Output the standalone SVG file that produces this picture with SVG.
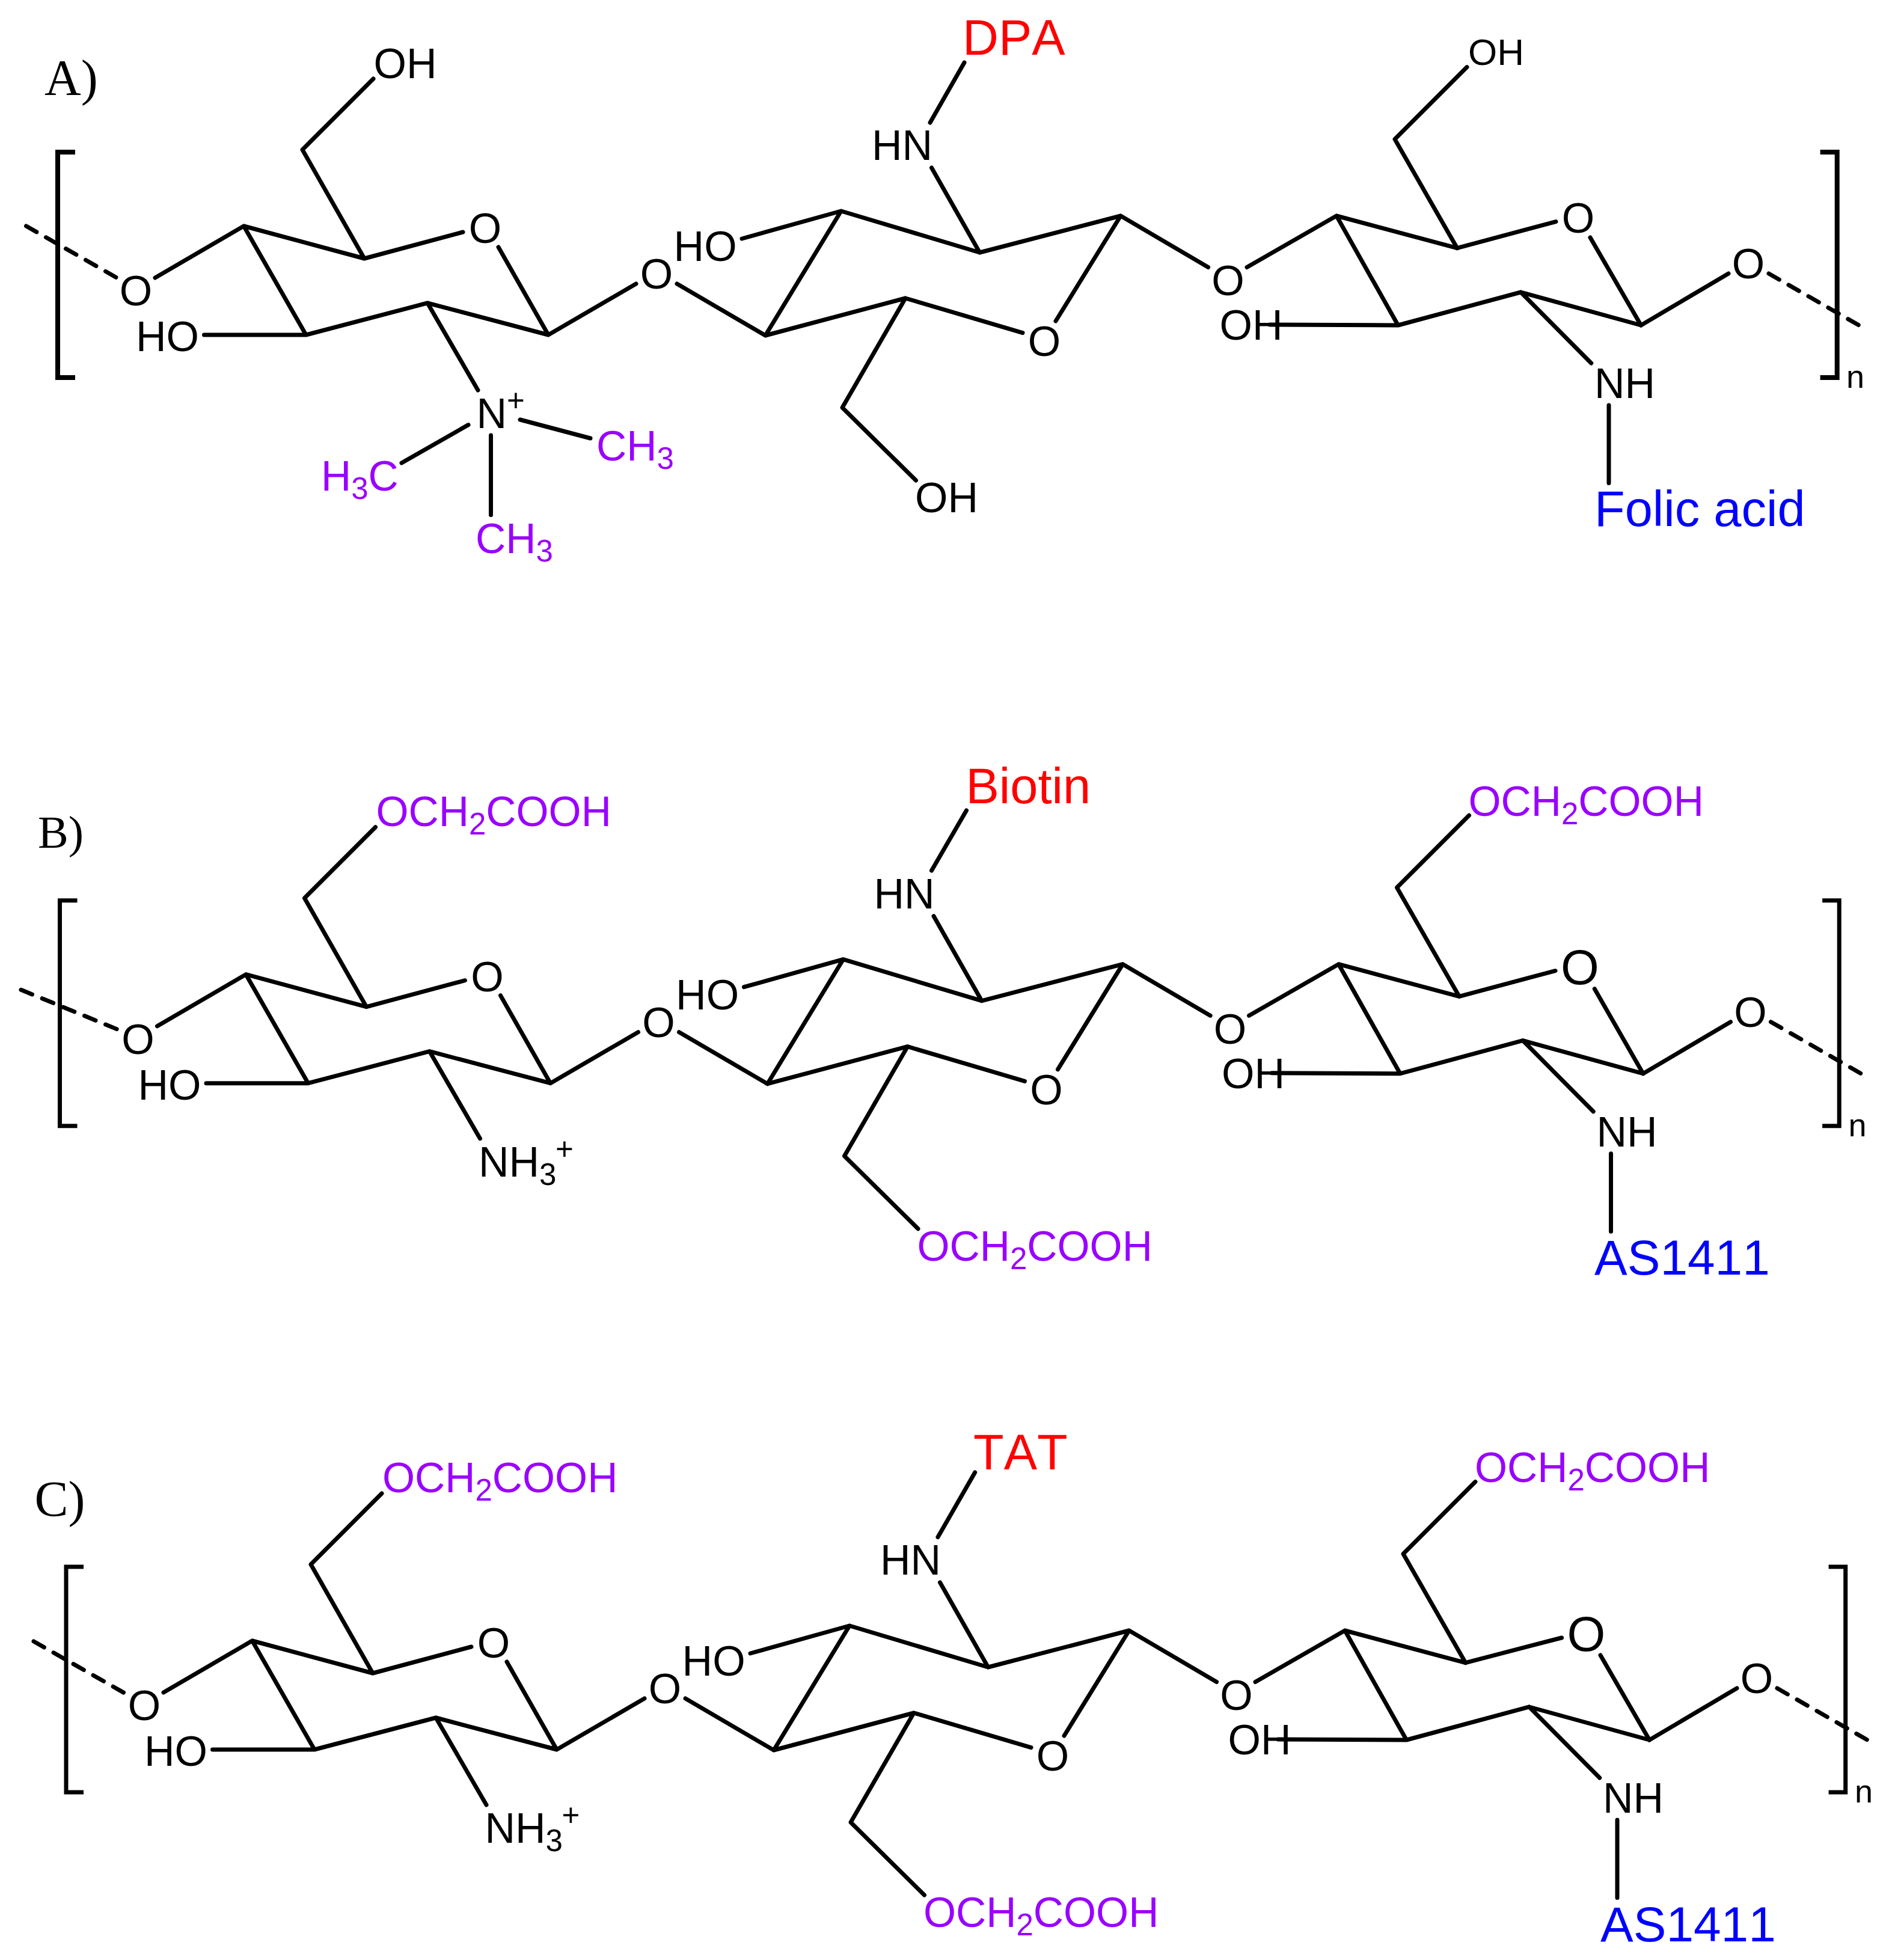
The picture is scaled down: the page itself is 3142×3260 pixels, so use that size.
<svg xmlns="http://www.w3.org/2000/svg" xmlns:xlink="http://www.w3.org/1999/xlink" width="3142" height="3260" viewBox="0 0 3142 3260">
<style>
.b{fill:none;stroke:#000;stroke-width:7;stroke-linecap:round;stroke-linejoin:round}
.d{fill:none;stroke:#000;stroke-width:7;stroke-linecap:round;stroke-dasharray:20 18}
.k{fill:none;stroke:#000;stroke-miterlimit:10}
text{font-family:"Liberation Sans",Arial,sans-serif;font-size:70px;fill:#000;font-kerning:none}
.m{text-anchor:middle}
.p{fill:#9900ff;font-size:69.5px}
.r{fill:#ff0000;font-size:83px}
.u{fill:#0000ff;font-size:83px}
.a{fill:#0000ff;font-size:82px}
.s{font-size:51px}
.h{font-family:"Liberation Serif","Times New Roman",serif;font-size:84px}
.big{font-size:82px}
</style>
<defs>
<path id="skeleton" class="b" d="M258,462L405.5,376L606,430L770,386M829,411L912,557L711,504L509,557L405.5,376M606,430L503,249L621,131M339.5,557L509,557M711,504L795,649M912,557L1058,472M1126,472L1273,558L1506,496L1701,553.6M1273,558L1399,351L1629.5,420L1864,359L1756,534M1234,397L1399,351M1549.5,279L1629.5,420M1506,496L1401,678L1523.5,799M1864,359L2009.6,444.5M2074,444.5L2223,359L2423.6,412.6M2223,359L2325.4,541L2529.5,486L2729.5,541M2423.6,412.6L2320,231.5L2440,111.6M2112,540L2325.4,541M2729.5,541L2875,455M2529.5,486L2646.7,604M2676,674L2676,803.6"/>
<path id="brackets" d="M125,253H96V628H125M3027.6,253H3055.7V628H3027.6"/>
<line id="dash-right" class="d" x1="2942" y1="455" x2="3092" y2="541"/>
</defs>

<g id="panel-a">
<g id="connectors-a">
<use xlink:href="#skeleton" href="#skeleton"/>
<use xlink:href="#brackets" href="#brackets" class="k" stroke-width="8"/>
<use xlink:href="#dash-right" href="#dash-right"/>
<line class="d" x1="43.5" y1="376" x2="196" y2="463"/>
<path class="b" d="M2423.6,412.6L2588,368.6M2645,395L2729.5,541M1547,204L1604,104M779,706.6L668,770M865,698L982,729M816.5,724L816.5,856.5"/>
</g>
<g id="labels-a">
<text class="h" x="74" y="158">A)</text>
<text x="621.6" y="130">OH</text>
<text x="226" y="508" class="m">O</text>
<text x="807" y="404" class="m">O</text>
<text x="226" y="584">HO</text>
<text x="1092" y="480" class="m">O</text>
<text x="792.4" y="712">N</text>
<text x="843" y="684" class="s">+</text>
<text x="534" y="816" class="p">H<tspan class="s" dy="14">3</tspan><tspan dy="-14">C</tspan></text>
<text x="992" y="766" class="p">CH<tspan class="s" dy="14">3</tspan></text>
<text x="791" y="920" class="p">CH<tspan class="s" dy="14">3</tspan></text>
<text x="1120.6" y="434">HO</text>
<text x="1450" y="266">HN</text>
<text x="1601" y="91" class="r">DPA</text>
<text x="1737" y="592" class="m">O</text>
<text x="1522" y="852">OH</text>
<text x="2042.6" y="491" class="m">O</text>
<text x="2028.6" y="565">OH</text>
<text x="2442" y="108" style="font-size:62px">OH</text>
<text x="2625" y="387" class="m">O</text>
<text x="2908" y="463" class="m">O</text>
<text x="2652" y="662">NH</text>
<text x="2652" y="875" class="u">Folic acid</text>
<text x="3071" y="645" style="font-size:54px">n</text>
</g>
</g>

<g id="panel-b" transform="translate(3.5,1244.7)">
<g id="connectors-b">
<use xlink:href="#skeleton" href="#skeleton"/>
<use xlink:href="#brackets" href="#brackets" class="k" stroke-width="7"/>
<use xlink:href="#dash-right" href="#dash-right"/>
<line class="d" x1="31.5" y1="401.6" x2="190.8" y2="467"/>
<path class="b" d="M2423.6,412.6L2583.6,370M2648.8,400L2729.5,541M1546,203.3L1604,103.3"/>
</g>
<g id="labels-b">
<text class="h" x="59.5" y="165" style="font-size:76px">B)</text>
<text x="622" y="129" class="p">OCH<tspan class="s" dy="14">2</tspan><tspan dy="-14">COOH</tspan></text>
<text x="226" y="508" class="m">O</text>
<text x="807" y="404" class="m">O</text>
<text x="226" y="584">HO</text>
<text x="1092" y="480" class="m">O</text>
<text x="792.4" y="712">NH<tspan class="s" dy="14">3</tspan></text>
<text x="920.5" y="684" class="s">+</text>
<text x="1120.6" y="434">HO</text>
<text x="1450" y="266">HN</text>
<text x="1603" y="91" class="r">Biotin</text>
<text x="1737" y="592" class="m">O</text>
<text x="1522" y="852" class="p">OCH<tspan class="s" dy="14">2</tspan><tspan dy="-14">COOH</tspan></text>
<text x="2042.6" y="491" class="m">O</text>
<text x="2028.6" y="565">OH</text>
<text x="2439" y="112" class="p">OCH<tspan class="s" dy="14">2</tspan><tspan dy="-14">COOH</tspan></text>
<text x="2624.5" y="392" class="m big">O</text>
<text x="2908" y="463" class="m">O</text>
<text x="2652" y="662">NH</text>
<text x="2648.5" y="875" class="a">AS1411</text>
<text x="3071" y="645" style="font-size:54px">n</text>
</g>
</g>

<g id="panel-c" transform="translate(14,2353)">
<g id="connectors-c">
<use xlink:href="#skeleton" href="#skeleton"/>
<use xlink:href="#brackets" href="#brackets" class="k" stroke-width="7"/>
<use xlink:href="#dash-right" href="#dash-right"/>
<line class="d" x1="42" y1="377" x2="193" y2="463"/>
<path class="b" d="M2423.6,412.6L2583.6,371M2648,400L2729.5,541M1546,203.6L1607.7,96"/>
</g>
<g id="labels-c">
<text class="h" x="43.5" y="169">C)</text>
<text x="622" y="129" class="p">OCH<tspan class="s" dy="14">2</tspan><tspan dy="-14">COOH</tspan></text>
<text x="226" y="508" class="m">O</text>
<text x="807" y="404" class="m">O</text>
<text x="226" y="584">HO</text>
<text x="1092" y="480" class="m">O</text>
<text x="792.4" y="712">NH<tspan class="s" dy="14">3</tspan></text>
<text x="920.5" y="684" class="s">+</text>
<text x="1120.6" y="434">HO</text>
<text x="1450" y="266">HN</text>
<text x="1605" y="91" class="r">TAT</text>
<text x="1737" y="592" class="m">O</text>
<text x="1522" y="852" class="p">OCH<tspan class="s" dy="14">2</tspan><tspan dy="-14">COOH</tspan></text>
<text x="2042.6" y="491" class="m">O</text>
<text x="2028.6" y="565">OH</text>
<text x="2439" y="112" class="p">OCH<tspan class="s" dy="14">2</tspan><tspan dy="-14">COOH</tspan></text>
<text x="2624.5" y="393" class="m big">O</text>
<text x="2908" y="463" class="m">O</text>
<text x="2652" y="662">NH</text>
<text x="2648" y="876" class="a">AS1411</text>
<text x="3071" y="645" style="font-size:54px">n</text>
</g>
</g>
</svg>
